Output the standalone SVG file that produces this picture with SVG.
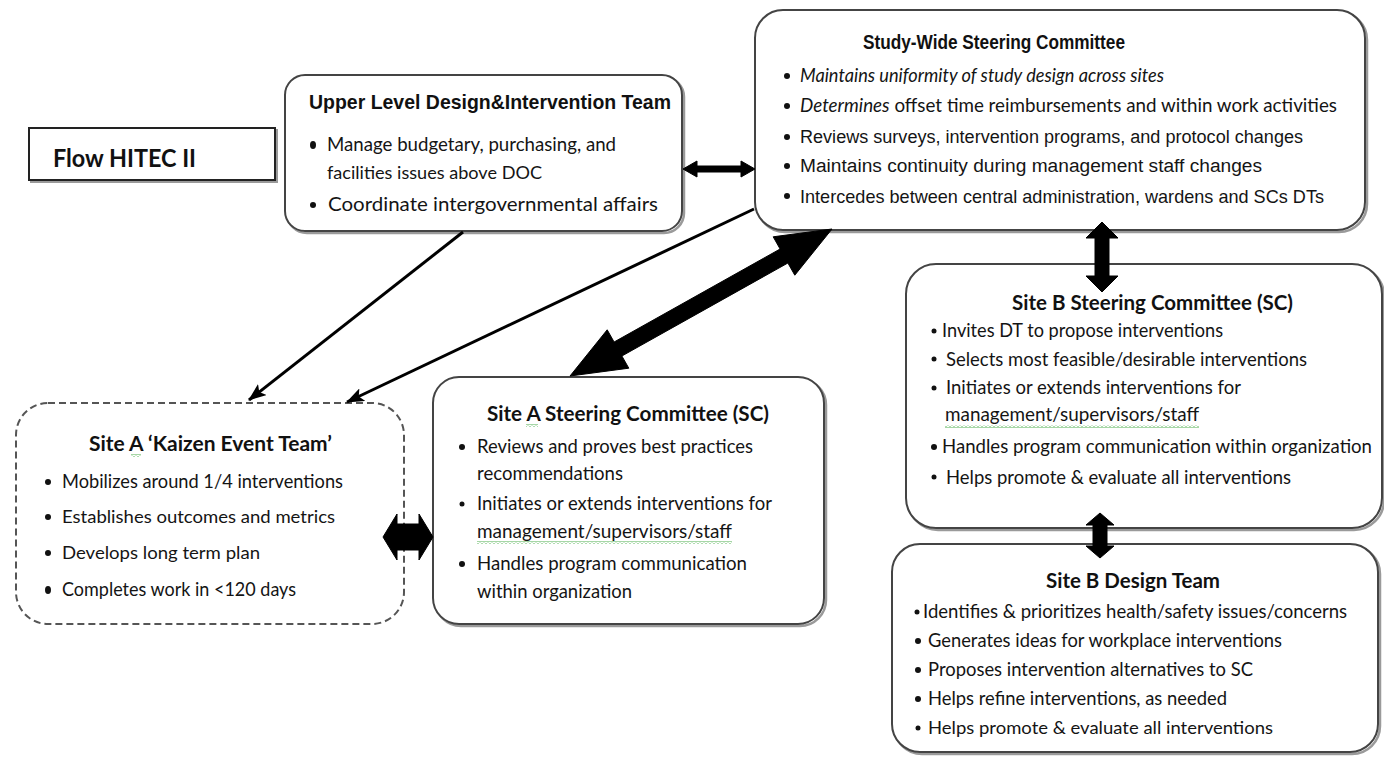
<svg xmlns="http://www.w3.org/2000/svg" width="1384" height="759" viewBox="0 0 1384 759">
  <defs>
    <style>
      .box { fill: #ffffff; stroke: #444; stroke-width: 2; }
      .shadow { fill: none; stroke: #9a9a9a; stroke-width: 2.5; }
      .dash { fill: #ffffff; stroke: #555; stroke-width: 2; stroke-dasharray: 7 4; }
      .t { font-family: Lato, "Open Sans", "Liberation Sans", sans-serif; font-size: 19px; fill: #141414; }
      .n { font-family: "Liberation Sans", Arial, sans-serif; font-size: 18px; fill: #141414; }
      .head { font-family: Lato, "Liberation Sans", sans-serif; font-size: 21px; font-weight: bold; fill: #111; }
      .nhead { font-family: "Liberation Sans", Arial, sans-serif; font-size: 21px; font-weight: bold; fill: #111; }
      .it { font-style: italic; }
      .dot { fill: #111; }
      .thin { fill: none; stroke: #000; stroke-width: 3; }
      .fat { fill: #000; stroke: #000; stroke-width: 1; stroke-linejoin: round; }
      .squig { fill: url(#squig); }
    </style>
    <marker id="tip" markerWidth="18" markerHeight="14" refX="17" refY="7" orient="auto" markerUnits="userSpaceOnUse">
      <path d="M0,0 L18,7 L0,14 L4,7 Z" fill="#000"/>
    </marker>
    <pattern id="squig" width="4" height="3" patternUnits="userSpaceOnUse">
      <polyline points="0,2.5 2,0.5 4,2.5" fill="none" stroke="#3aa63a" stroke-width="0.9"/>
    </pattern>
  </defs>

  <rect width="1384" height="759" fill="#ffffff"/>

  <!-- title label -->
  <g id="flow-title">
    <rect x="31" y="130" width="246" height="52" fill="none" stroke="#9a9a9a" stroke-width="2"/>
    <rect x="29" y="128" width="246" height="52" fill="#fff" stroke="#222" stroke-width="2"/>
    <text x="53" y="167" class="head" style="font-size:24px" textLength="143" lengthAdjust="spacingAndGlyphs">Flow HITEC II</text>
  </g>

  <!-- upper level team -->
  <g id="upper-level-team">
    <rect x="287" y="77" width="397" height="156" rx="20" class="shadow"/>
    <rect x="285" y="75" width="397" height="156" rx="20" class="box"/>
    <text x="309" y="109" class="nhead" textLength="362" lengthAdjust="spacingAndGlyphs">Upper Level Design&amp;Intervention Team</text>
    <ellipse cx="313" cy="145" rx="3" ry="4" class="dot"/>
    <text x="327" y="151" class="t" textLength="289" lengthAdjust="spacingAndGlyphs">Manage budgetary,  purchasing, and</text>
    <text x="327" y="179" class="t" style="font-size:17px" textLength="215" lengthAdjust="spacingAndGlyphs">facilities issues  above DOC</text>
    <circle cx="313" cy="205" r="3" class="dot"/>
    <text x="328" y="211" class="t" textLength="330" lengthAdjust="spacingAndGlyphs">Coordinate intergovernmental affairs</text>
  </g>

  <!-- study-wide steering committee -->
  <g id="study-wide-sc">
    <rect x="757" y="12" width="610" height="220" rx="28" class="shadow"/>
    <rect x="755" y="10" width="610" height="220" rx="28" class="box"/>
    <text x="863" y="49" class="nhead" textLength="262" lengthAdjust="spacingAndGlyphs">Study-Wide Steering Committee</text>
    <circle cx="787" cy="76" r="3" class="dot"/>
    <text x="800" y="82" class="t it" textLength="364" lengthAdjust="spacingAndGlyphs">Maintains uniformity of study design across sites</text>
    <circle cx="787" cy="106" r="3" class="dot"/>
    <text x="800" y="112" class="t" textLength="537" lengthAdjust="spacingAndGlyphs"><tspan class="it">Determines</tspan>  offset time reimbursements and within work activities</text>
    <circle cx="787" cy="137" r="3" class="dot"/>
    <text x="800" y="143" class="n" textLength="503" lengthAdjust="spacingAndGlyphs">Reviews surveys, intervention programs, and protocol  changes</text>
    <circle cx="787" cy="166" r="3" class="dot"/>
    <text x="800" y="172" class="n" textLength="462" lengthAdjust="spacingAndGlyphs">Maintains continuity during  management staff changes</text>
    <circle cx="787" cy="196" r="3" class="dot"/>
    <text x="800" y="203" class="n" style="font-size:19px" textLength="524" lengthAdjust="spacingAndGlyphs">Intercedes between central administration, wardens and SCs DTs</text>
  </g>

  <!-- site B steering committee -->
  <g id="site-b-sc">
    <rect x="908" y="266" width="476" height="264" rx="30" class="shadow"/>
    <rect x="906" y="264" width="476" height="264" rx="30" class="box"/>
    <text x="1012" y="310" class="head" textLength="281" lengthAdjust="spacingAndGlyphs">Site B Steering Committee (SC)</text>
    <circle cx="934" cy="331" r="2.5" class="dot"/>
    <text x="942" y="337" class="t" textLength="281" lengthAdjust="spacingAndGlyphs">Invites DT to propose  interventions</text>
    <circle cx="934" cy="359" r="2.5" class="dot"/>
    <text x="946" y="366" class="t" textLength="361" lengthAdjust="spacingAndGlyphs">Selects most feasible/desirable interventions</text>
    <circle cx="934" cy="388" r="2.5" class="dot"/>
    <text x="946" y="394" class="t" textLength="295" lengthAdjust="spacingAndGlyphs">Initiates or extends interventions  for</text>
    <text x="945" y="421" class="t" textLength="254" lengthAdjust="spacingAndGlyphs">management/supervisors/staff</text>
    <rect x="945" y="425" width="254" height="3" class="squig"/>
    <circle cx="934" cy="447" r="3" class="dot"/>
    <text x="942" y="453" class="t" textLength="430" lengthAdjust="spacingAndGlyphs">Handles program  communication within organization</text>
    <circle cx="934" cy="477" r="2.5" class="dot"/>
    <text x="946" y="484" class="t" textLength="345" lengthAdjust="spacingAndGlyphs">Helps promote &amp; evaluate all interventions</text>
  </g>

  <!-- site B design team -->
  <g id="site-b-design-team">
    <rect x="894" y="546" width="486" height="208" rx="28" class="shadow"/>
    <rect x="892" y="544" width="486" height="208" rx="28" class="box"/>
    <text x="1046" y="588" class="head" textLength="174" lengthAdjust="spacingAndGlyphs">Site B Design  Team</text>
    <circle cx="917" cy="612" r="2.5" class="dot"/>
    <text x="923" y="618" class="t" textLength="424" lengthAdjust="spacingAndGlyphs">Identifies &amp; prioritizes health/safety issues/concerns</text>
    <circle cx="918" cy="641" r="3" class="dot"/>
    <text x="928" y="647" class="t" textLength="354" lengthAdjust="spacingAndGlyphs">Generates ideas for workplace interventions</text>
    <circle cx="918" cy="670" r="3" class="dot"/>
    <text x="928" y="676" class="t" textLength="325" lengthAdjust="spacingAndGlyphs">Proposes intervention  alternatives to SC</text>
    <circle cx="918" cy="699" r="3" class="dot"/>
    <text x="928" y="705" class="t" textLength="299" lengthAdjust="spacingAndGlyphs">Helps refine interventions,  as needed</text>
    <circle cx="918" cy="728" r="2.5" class="dot"/>
    <text x="928" y="734" class="t" style="font-size:17px" textLength="345" lengthAdjust="spacingAndGlyphs">Helps promote &amp; evaluate all interventions</text>
  </g>

  <!-- site A kaizen event team -->
  <g id="site-a-kaizen">
    <rect x="16" y="403" width="388" height="221" rx="32" class="dash"/>
    <text x="89" y="451" class="head" style="font-size:20px" textLength="243" lengthAdjust="spacingAndGlyphs">Site A ‘Kaizen  Event Team’</text>
    <rect x="131" y="454" width="10" height="3" class="squig"/>
    <circle cx="48" cy="482" r="3" class="dot"/>
    <text x="62" y="488" class="t" textLength="281" lengthAdjust="spacingAndGlyphs">Mobilizes around 1/4 interventions</text>
    <circle cx="48" cy="517" r="3" class="dot"/>
    <text x="62" y="523" class="t" style="font-size:18px" textLength="273" lengthAdjust="spacingAndGlyphs">Establishes outcomes and metrics</text>
    <circle cx="48" cy="553" r="3" class="dot"/>
    <text x="62" y="559" class="t" style="font-size:18px" textLength="198" lengthAdjust="spacingAndGlyphs">Develops  long  term plan</text>
    <ellipse cx="48" cy="590" rx="3" ry="4" class="dot"/>
    <text x="62" y="596" class="t" textLength="234" lengthAdjust="spacingAndGlyphs">Completes work in &lt;120 days</text>
  </g>

  <!-- site A steering committee -->
  <g id="site-a-sc">
    <rect x="435" y="379" width="391" height="247" rx="26" class="shadow"/>
    <rect x="433" y="377" width="391" height="247" rx="26" class="box"/>
    <text x="487" y="421" class="head" style="font-size:20px" textLength="282" lengthAdjust="spacingAndGlyphs">Site A Steering Committee (SC)</text>
    <rect x="526" y="424" width="12" height="3" class="squig"/>
    <circle cx="462" cy="447" r="3" class="dot"/>
    <text x="477" y="453" class="t" textLength="276" lengthAdjust="spacingAndGlyphs">Reviews and proves best practices</text>
    <text x="477" y="480" class="t" textLength="146" lengthAdjust="spacingAndGlyphs">recommendations</text>
    <circle cx="462" cy="504" r="2.5" class="dot"/>
    <text x="477" y="510" class="t" textLength="295" lengthAdjust="spacingAndGlyphs">Initiates or extends interventions  for</text>
    <text x="477" y="538" class="t" textLength="255" lengthAdjust="spacingAndGlyphs">management/supervisors/staff</text>
    <rect x="477" y="541" width="255" height="3" class="squig"/>
    <circle cx="462" cy="564" r="3" class="dot"/>
    <text x="477" y="570" class="t" textLength="270" lengthAdjust="spacingAndGlyphs">Handles program  communication</text>
    <text x="477" y="598" class="t" textLength="155" lengthAdjust="spacingAndGlyphs">within organization</text>
  </g>

  <!-- connectors -->
  <g id="connectors">
    <!-- one-way links into the kaizen team -->
    <line x1="463" y1="232" x2="249" y2="400" class="thin" marker-end="url(#tip)"/>
    <line x1="754" y1="209" x2="347" y2="402" class="thin" marker-end="url(#tip)"/>
    <!-- upper level <-> study-wide -->
    <polygon class="fat" points="683,169 697,161 697,166 741,166 741,161 755,169 741,177 741,172 697,172 697,177"/>
    <!-- site A SC <-> study-wide -->
    <polygon class="fat" points="570,376 628.8,368.2 621.9,356 787.9,263 794.8,275.2 832,229 773.2,236.8 780.1,249 614.1,342 607.2,329.8"/>
    <!-- study-wide <-> site B SC -->
    <polygon class="fat" points="1102,222 1118,238 1109,238 1109,276 1118,276 1102,292 1086,276 1095,276 1095,238 1086,238"/>
    <!-- site B SC <-> site B design team -->
    <polygon class="fat" points="1100,513 1114,525 1107,525 1107,546 1114,546 1100,558 1086,546 1093,546 1093,525 1086,525"/>
    <!-- kaizen team <-> site A SC -->
    <polygon class="fat" points="383,537 397,514 397,524 419,524 419,514 433,537 419,560 419,550 397,550 397,560"/>
  </g>
</svg>
